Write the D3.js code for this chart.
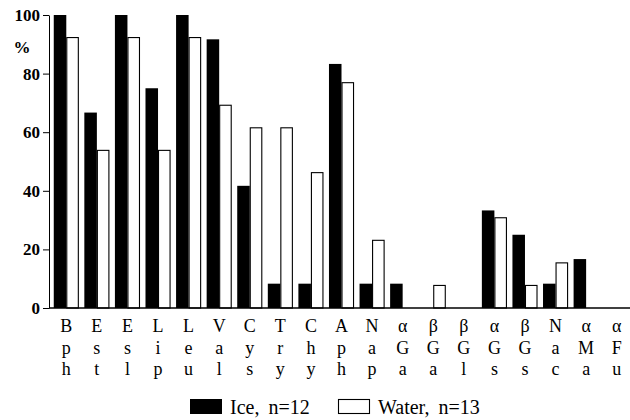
<!DOCTYPE html>
<html>
<head>
<meta charset="utf-8">
<script src="https://cdn.jsdelivr.net/npm/d3@7"></script>
<style>
  html, body { margin: 0; padding: 0; background: #fff; }
  svg { display: block; }
  svg text { font-family: "Liberation Serif", "Times New Roman", "DejaVu Serif", serif; fill: #000; }
</style>
</head>
<body>
<div id="chart"></div>
<script>
/* Paired bars: ice vs water, percent per substrate. */

var categories = ["Bph", "Est", "Esl", "Lip", "Leu", "Val", "Cys", "Try", "Chy", "Aph",
                  "Nap", "αGa", "βGa", "βGl", "αGs", "βGs", "Nac", "αMa", "αFu"];
var iceValues = [100, 66.7, 100, 75, 100, 91.7, 41.7, 8.3, 8.3, 83.3,
                 8.3, 8.3, 0, 0, 33.3, 25, 8.3, 16.7, 0];
var waterValues = [92.3, 53.8, 92.3, 53.8, 92.3, 69.2, 61.5, 61.5, 46.2, 76.9,
                   23.1, 0, 7.7, 0, 30.8, 7.7, 15.4, 0, 0];
var yTicks = [0, 20, 40, 60, 80, 100];
var legendLabels = ["Ice, n=12", "Water, n=13"];

var W = 630, H = 420;
var d3 = window.d3;

var svg = d3.select("#chart").append("svg")
  .attr("width", W).attr("height", H);

var x0 = d3.scaleBand().domain(categories).range([51, 632]).padding(0);
var x1 = d3.scaleBand().domain(["ice", "water"]).range([0, x0.bandwidth()])
  .paddingInner(0).paddingOuter(0.22);
var y = d3.scaleLinear().domain([0, 100]).range([308, 15]);

// bars
categories.forEach(function (c, i) {
  var g = svg.append("g").attr("transform", "translate(" + x0(c) + ",0)");
  g.append("rect")
    .attr("x", x1("ice")).attr("y", y(iceValues[i]))
    .attr("width", x1.bandwidth()).attr("height", y(0) - y(iceValues[i]))
    .attr("fill", "#000");
  g.append("rect")
    .attr("x", x1("water") + 0.5).attr("y", y(waterValues[i]))
    .attr("width", x1.bandwidth() - 1).attr("height", y(0) - y(waterValues[i]))
    .attr("fill", "#fff").attr("stroke", "#000").attr("stroke-width", 1.1);
});

// y axis
var yAxis = svg.append("g").attr("transform", "translate(49,0)")
  .call(d3.axisLeft(y).tickValues(yTicks).tickSize(6).tickSizeOuter(0).tickPadding(3));
yAxis.attr("font-family", null).attr("font-size", null);
yAxis.selectAll("text")
  .style("font-size", "17px").style("font-weight", "bold");

svg.append("text").attr("x", 22).attr("y", 53)
  .attr("text-anchor", "middle")
  .style("font-size", "17px").style("font-weight", "bold")
  .text("%");

// baseline
svg.append("line").attr("x1", 49).attr("x2", 630)
  .attr("y1", y(0)).attr("y2", y(0))
  .attr("stroke", "#000").attr("stroke-width", 1.6);

// stacked category letters
categories.forEach(function (c) {
  var cx = x0(c) + x0.bandwidth() / 2;
  Array.from(c).forEach(function (ch, k) {
    svg.append("text")
      .attr("x", cx).attr("y", 332 + k * 21.5)
      .attr("text-anchor", "middle")
      .style("font-size", "18px")
      .text(ch);
  });
});

// legend
var lg = svg.append("g");
lg.append("rect").attr("x", 190).attr("y", 399).attr("width", 32).attr("height", 15)
  .attr("fill", "#000");
lg.append("text").attr("x", 230).attr("y", 414).style("font-size", "20px")
  .style("word-spacing", "4px").text(legendLabels[0]);
lg.append("rect").attr("x", 338.5).attr("y", 399.5).attr("width", 31).attr("height", 14)
  .attr("fill", "#fff").attr("stroke", "#000").attr("stroke-width", 1.1);
lg.append("text").attr("x", 378).attr("y", 414).style("font-size", "20px")
  .style("word-spacing", "4px").text(legendLabels[1]);
</script>
</body>
</html>
